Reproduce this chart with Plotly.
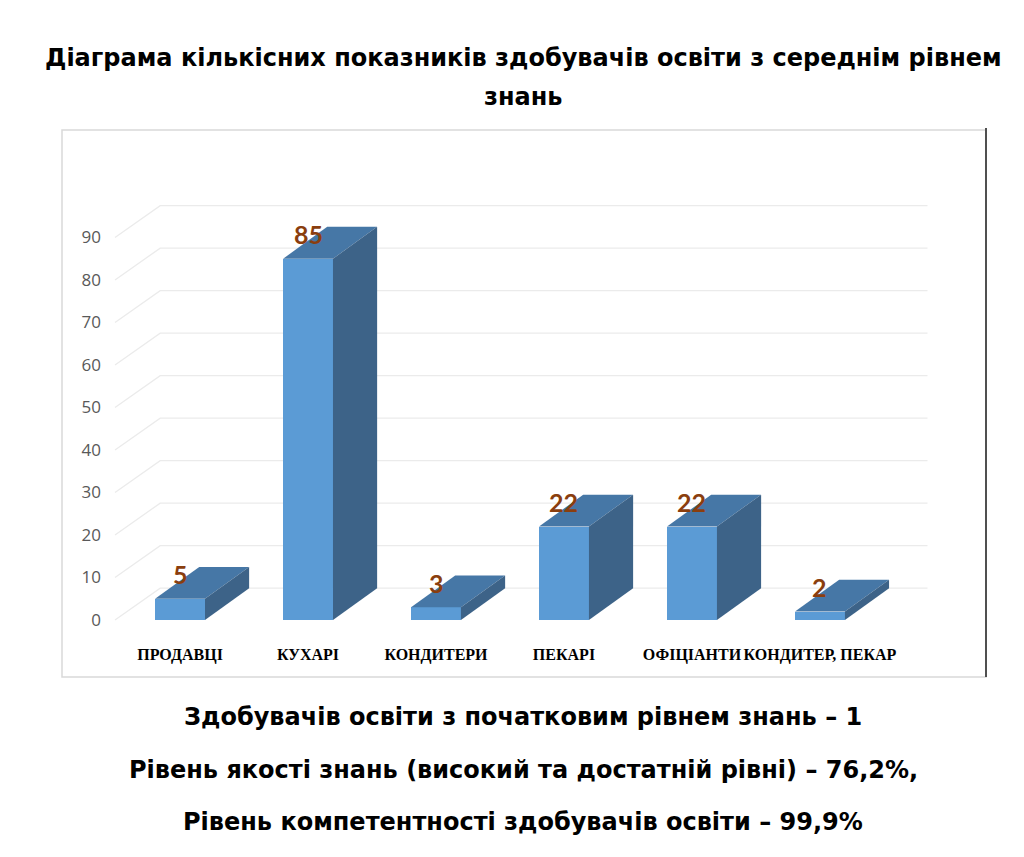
import plotly.graph_objects as go

# ---- data ----
categories = ["ПРОДАВЦІ", "КУХАРІ", "КОНДИТЕРИ", "ПЕКАРІ", "ОФІЦІАНТИ", "КОНДИТЕР, ПЕКАР"]
values = [5, 85, 3, 22, 22, 2]
y_ticks = [0, 10, 20, 30, 40, 50, 60, 70, 80, 90]
title_lines = ["Діаграма кількісних показників здобувачів освіти з середнім рівнем", "знань"]
notes = [
    "Здобувачів освіти з початковим рівнем знань – 1",
    "Рівень якості знань (високий та достатній рівні) – 76,2%,",
    "Рівень компетентності здобувачів освіти – 99,9%",
]

# ---- layout geometry ----
OFF = 8                       # page body margin
W, H = 1024, 857
ML, MR = 104 - OFF, 37 + OFF
MT, MB = 130 - OFF, 214 + OFF
X0, X1 = -0.594, 6.305
Y0, Y1 = -5.41, 115.29
BAR_W = 0.39
DX, DY = 0.345, 7.5          # 3D depth offset in data units
GRID_END = 5.84

FRONT = "#5B9BD5"
TOP = "#4677A6"
SIDE = "#3D6388"
LABEL = "#8A3E0E"

def px_to_paper_x(px):
    return (px - OFF - ML) / (W - ML - MR)

def py_to_paper_y(py):
    return (H - MB - (py - OFF)) / (H - MT - MB)

fig = go.Figure()

# front faces of the bars
xs = list(range(len(categories)))
fig.add_trace(go.Bar(x=xs, y=values, width=BAR_W, marker=dict(color=FRONT, line=dict(width=0)),
                     hoverinfo="skip", showlegend=False))

# top and side faces, built from the values
for x, v in zip(xs, values):
    l, r = x - BAR_W / 2, x + BAR_W / 2
    fig.add_trace(go.Scatter(x=[l, l + DX, r + DX, r, l], y=[v, v + DY, v + DY, v, v],
                             fill="toself", fillcolor=TOP, mode="lines", line=dict(width=0),
                             hoverinfo="skip", showlegend=False))
    fig.add_trace(go.Scatter(x=[r, r + DX, r + DX, r, r], y=[0, DY, v + DY, v, 0],
                             fill="toself", fillcolor=SIDE, mode="lines", line=dict(width=0),
                             hoverinfo="skip", showlegend=False))
    fig.add_annotation(x=x, y=v + 5.8, text=f"<b>{v}</b>", showarrow=False,
                       font=dict(family="Lato", size=25, color=LABEL))

# back-wall gridlines with perspective diagonals
for t in y_ticks:
    fig.add_shape(type="path", xref="x", yref="y", layer="below",
                  path=f"M {-0.508},{t} L {-0.5 + DX},{t + DY} L {GRID_END},{t + DY}",
                  line=dict(color="#EBEBEB", width=1.3))

# frame around chart
fig.add_shape(type="rect", xref="paper", yref="paper",
              x0=px_to_paper_x(62), x1=px_to_paper_x(986),
              y0=py_to_paper_y(677), y1=py_to_paper_y(130),
              line=dict(color="#D9D9D9", width=1.5), layer="below")
fig.add_shape(type="line", xref="paper", yref="paper",
              x0=px_to_paper_x(986), x1=px_to_paper_x(986),
              y0=py_to_paper_y(677), y1=py_to_paper_y(128),
              line=dict(color="#505050", width=2))

# title
for txt, py in zip(title_lines, [58, 97]):
    fig.add_annotation(xref="paper", yref="paper", x=px_to_paper_x(523), y=py_to_paper_y(py),
                       text=f"<b>{txt}</b>", showarrow=False, xanchor="center", yanchor="middle",
                       font=dict(family="DejaVu Sans", size=24, color="#000000"))

# notes below
for txt, py in zip(notes, [717, 770, 822]):
    fig.add_annotation(xref="paper", yref="paper", x=px_to_paper_x(523), y=py_to_paper_y(py),
                       text=f"<b>{txt}</b>", showarrow=False, xanchor="center", yanchor="middle",
                       font=dict(family="DejaVu Sans", size=24, color="#000000"))

fig.update_layout(
    width=W, height=H,
    margin=dict(l=ML, r=MR, t=MT, b=MB),
    paper_bgcolor="white", plot_bgcolor="rgba(0,0,0,0)",
    bargap=0,
    xaxis=dict(range=[X0, X1], tickvals=xs, ticktext=[f"<b>{c}</b>" for c in categories],
               showgrid=False, zeroline=False, showline=False, ticks="",
               tickfont=dict(family="Liberation Serif", size=16, color="#000000"), fixedrange=True),
    yaxis=dict(range=[Y0, Y1], tickvals=y_ticks, showgrid=False, zeroline=False, showline=False,
               ticks="", ticklabelstandoff=2,
               tickfont=dict(family="Open Sans", size=17, color="#595959"), fixedrange=True),
    showlegend=False,
)

fig.write_html("out.html")
